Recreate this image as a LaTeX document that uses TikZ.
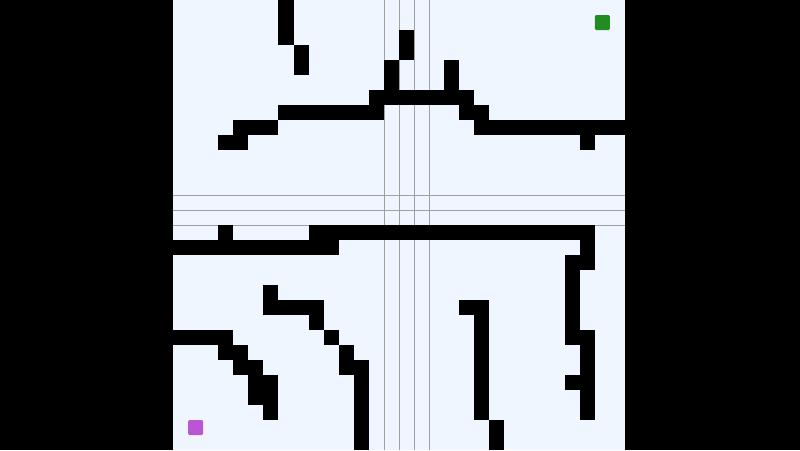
\documentclass[tikz,border=0pt]{standalone}
\definecolor{mazebg}{RGB}{239,246,255}
\definecolor{goalgreen}{RGB}{34,139,34}
\definecolor{startpurple}{RGB}{186,85,211}
\tikzset{
	wall/.style={fill=black},
	guide/.style={draw=gray!75, line width=0.6pt},
	marker/.style={rounded corners=1.2pt}
}
\begin{document}
\begin{tikzpicture}[x=0.50222cm,y=-0.5cm]
	\fill[black](-11.482,0) rectangle (41.615,30);
	\useasboundingbox (-11.482,0) rectangle (41.615,30);
	\fill[mazebg](0,0) rectangle (30,30);
%	guide lines through the middle
	\foreach \c in {14,...,17} \draw[guide](\c,0)--(\c,30);
	\foreach \r in {13,14,15} \draw[guide](0,\r)--(30,\r);
%	walls: row/first column/last column
	\foreach \r/\a/\b in {0/7/7, 1/7/7, 2/7/7, 2/15/15, 3/8/8, 3/15/15,
		4/8/8, 4/14/14, 4/18/18, 5/14/14, 5/18/18, 6/13/19,
		7/7/13, 7/19/20, 8/4/6, 8/20/29, 9/3/4, 9/27/27,
		15/3/3, 15/9/27, 16/0/10, 16/27/27, 17/26/27, 18/26/26,
		19/6/6, 19/26/26, 20/6/9, 20/19/20, 20/26/26,
		21/9/9, 21/20/20, 21/26/26, 22/0/3, 22/10/10, 22/20/20, 22/26/27,
		23/3/4, 23/11/11, 23/20/20, 23/27/27,
		24/4/5, 24/11/12, 24/20/20, 24/27/27,
		25/5/6, 25/12/12, 25/20/20, 25/26/27,
		26/5/6, 26/12/12, 26/20/20, 26/27/27,
		27/6/6, 27/12/12, 27/20/20, 27/27/27,
		28/12/12, 28/21/21, 29/12/12, 29/21/21}
		\fill[wall](\a,\r) rectangle (\b+1,\r+1);
%	goal and start
	\fill[goalgreen, marker](28,1) rectangle (29,2);
	\fill[startpurple, marker](1,28) rectangle (2,29);
\end{tikzpicture}
\end{document}
